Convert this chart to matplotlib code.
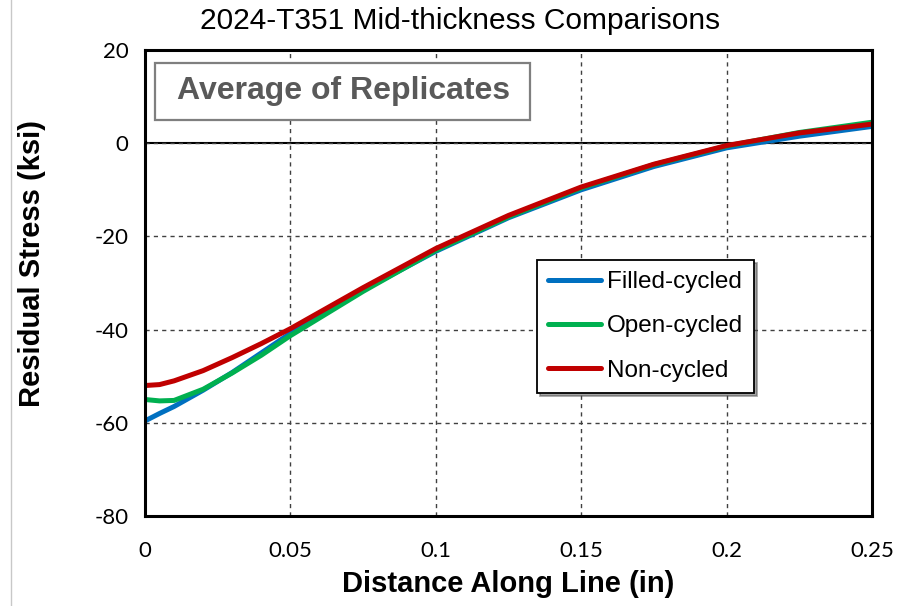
import matplotlib.pyplot as plt
from matplotlib.lines import Line2D
from matplotlib.patches import Rectangle

# distance along line (in) and residual stress (ksi) for each condition
distance = [0, 0.005, 0.01, 0.02, 0.03, 0.04, 0.05, 0.075, 0.1, 0.125,
            0.15, 0.175, 0.2, 0.225, 0.25]
filled_cycled = [-59.6, -58.0, -56.5, -53.0, -49.2, -45.0, -40.8, -31.5,
                 -23.2, -16.0, -10.0, -5.0, -1.0, 1.5, 3.6]
open_cycled = [-55.0, -55.3, -55.2, -52.8, -49.3, -45.5, -41.3, -31.8,
               -23.0, -15.8, -9.6, -4.6, -0.6, 2.3, 4.5]
non_cycled = [-52.0, -51.8, -51.0, -48.8, -46.0, -43.0, -39.8, -31.0,
              -22.6, -15.5, -9.4, -4.5, -0.5, 2.2, 4.1]

x_ticks = [0, 0.05, 0.1, 0.15, 0.2, 0.25]
x_tick_labels = ['0', '0.05', '0.1', '0.15', '0.2', '0.25']
y_ticks = [-80, -60, -40, -20, 0, 20]
y_tick_labels = ['-80', '-60', '-40', '-20', '0', '20']

plt.rcParams['font.family'] = ['Liberation Sans', 'DejaVu Sans']
plt.rcParams['axes.unicode_minus'] = False

W, H = 904, 606
fig = plt.figure(figsize=(W / 100, H / 100), dpi=100)
ax = fig.add_axes([145 / W, 1 - 516 / H, 727 / W, 466 / H])

# Plot each series
ax.plot(distance, filled_cycled, color='#0070C0', lw=3.6, label='Filled-cycled',
        solid_capstyle='round', zorder=3)
ax.plot(distance, open_cycled, color='#00B050', lw=3.6, label='Open-cycled',
        solid_capstyle='round', zorder=3)
ax.plot(distance, non_cycled, color='#C00000', lw=3.6, label='Non-cycled',
        solid_capstyle='round', zorder=3)

ax.set_xlim(0, 0.25)
ax.set_ylim(-80, 20)
ax.set_xticks(x_ticks)
ax.set_xticklabels(x_tick_labels, family='Lato', fontsize=16)
ax.set_yticks(y_ticks)
ax.set_yticklabels(y_tick_labels, family='Lato', fontsize=16)
ax.tick_params(axis='x', length=0, pad=18)
ax.tick_params(axis='y', length=0, pad=12)

# Dashed grid plus a solid zero line
ax.grid(True, color='#404040', linestyle=(0, (3, 3)), lw=1)
ax.axhline(0, color='black', lw=1.5, zorder=1.5)
for s in ax.spines.values():
    s.set_linewidth(2.2)
    s.set_color('black')
    s.set_zorder(4)

fig.text(460 / W, 1 - 21 / H, '2024-T351 Mid-thickness Comparisons',
         fontsize=21.5, ha='center', va='center')
fig.text(508 / W, 1 - 584 / H, 'Distance Along Line (in)', fontsize=21,
         fontweight='bold', ha='center', va='center')
fig.text(32 / W, 1 - 264 / H, 'Residual Stress (ksi)', fontsize=21,
         fontweight='bold', ha='center', va='center', rotation=90)

# thin chart-area border on the left
fig.add_artist(Line2D([10.5 / W, 10.5 / W], [0, 1], color='#c8c8c8', lw=1))

# Label box
ax.add_patch(Rectangle((0.0138, 0.850), 0.516, 0.122, transform=ax.transAxes,
                       fc='white', ec='#7f7f7f', lw=1.6, zorder=5))
ax.text(0.273, 0.911, 'Average of Replicates', transform=ax.transAxes,
        fontsize=23, fontweight='bold', color='#595959', ha='center',
        va='center', zorder=6)

leg = ax.legend(loc='upper left', bbox_to_anchor=(0.539, 0.549), fontsize=17.5,
                frameon=True, fancybox=False, shadow=True, handlelength=2.2,
                handletextpad=0.25, labelspacing=0.92, borderpad=0.45,
                borderaxespad=0)
leg.get_frame().set_edgecolor('black')
leg.get_frame().set_linewidth(1.3)
leg.set_zorder(6)

fig.savefig('out.png', dpi=100)
